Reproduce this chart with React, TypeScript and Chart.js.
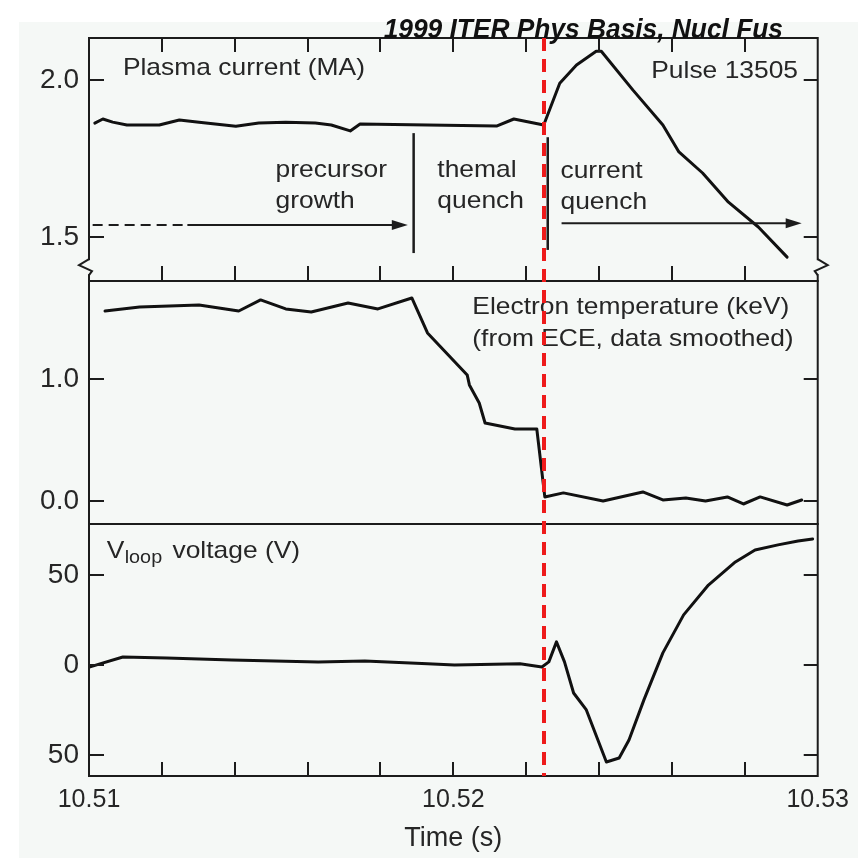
import { useEffect, useRef } from "react";
import { Chart, registerables } from "chart.js";

Chart.register(...registerables);

// ---------- data ----------
const X_MIN = 10.51;
const X_MAX = 10.53;
const X_LABEL_TICKS = [10.51, 10.52, 10.53];
const X_LABELS = ["10.51", "10.52", "10.53"];
const X_MINOR_TICKS = [10.512, 10.514, 10.516, 10.518, 10.52, 10.522, 10.524, 10.526, 10.528];

const IP_TICKS = [1.5, 2.0];
const IP_TICK_LABELS = ["1.5", "2.0"];
const TE_TICKS = [0, 1.0];
const TE_TICK_LABELS = ["0.0", "1.0"];
const V_TICKS = [-50, 0, 50];
const V_TICK_LABELS = ["50", "0", "50"];

const IP_TIME = [10.51016, 10.51038, 10.51065, 10.51104, 10.51193, 10.51248, 10.51302, 10.51403, 10.51466, 10.5154, 10.51621, 10.51665, 10.51717, 10.51744, 10.51929, 10.5212, 10.52166, 10.52248, 10.52292, 10.52338, 10.52392, 10.52406, 10.52493, 10.52575, 10.52619, 10.52684, 10.52755, 10.52837, 10.52916];
const IP_MA = [1.863, 1.876, 1.866, 1.857, 1.857, 1.873, 1.866, 1.853, 1.863, 1.866, 1.863, 1.857, 1.838, 1.86, 1.857, 1.854, 1.876, 1.857, 1.99, 2.048, 2.092, 2.092, 1.968, 1.857, 1.771, 1.704, 1.611, 1.532, 1.436];

const TE_TIME = [10.51044, 10.51139, 10.51302, 10.51411, 10.51471, 10.5154, 10.5161, 10.51711, 10.51793, 10.51886, 10.51929, 10.52038, 10.52044, 10.52071, 10.52087, 10.52169, 10.52229, 10.52251, 10.52302, 10.52411, 10.5252, 10.52575, 10.52638, 10.52692, 10.52752, 10.52796, 10.52842, 10.52916, 10.52956];
const TE_KEV = [1.557, 1.59, 1.607, 1.557, 1.648, 1.574, 1.549, 1.623, 1.574, 1.664, 1.377, 1.033, 0.951, 0.803, 0.639, 0.59, 0.59, 0.033, 0.066, 0.0, 0.074, 0.008, 0.025, 0.0, 0.033, -0.025, 0.033, -0.033, 0.008];

const V_TIME = [10.51003, 10.5103, 10.51093, 10.51213, 10.51392, 10.51629, 10.51757, 10.51929, 10.52003, 10.52183, 10.52243, 10.52262, 10.52283, 10.52305, 10.5233, 10.52365, 10.5242, 10.52455, 10.52482, 10.52523, 10.52575, 10.52632, 10.527, 10.52774, 10.52828, 10.52891, 10.52946, 10.52986];
const V_LOOP = [-1.1, 0.6, 4.4, 3.9, 2.8, 1.7, 2.2, 0.6, 0, 0.6, -1.1, 1.7, 12.8, 1.7, -15.6, -25, -53.9, -51.7, -41.7, -19.4, 6.7, 27.8, 44.4, 57.2, 63.9, 66.7, 68.9, 70];

// phase markers
const DISRUPTION_TIME = 10.52248;
const PRECURSOR_END = 10.51891;
const THERMAL_END = 10.52259;

// ---------- style ----------
const FONT = "'Liberation Sans', Arial, Helvetica, sans-serif";
const INK = "#1c1c1c";
const TEXT = "#262626";
const BG = "#f5f8f6";

const labelFor = (v: number, vals: number[], labels: string[]) => {
  const i = vals.findIndex((t) => Math.abs(t - v) < 1e-9);
  return i >= 0 ? labels[i] : "";
};

const yAxis = (min: number, max: number, ticks: number[], labels: string[], weight: number) => ({
  type: "linear" as const,
  position: "left" as const,
  stack: "panels",
  stackWeight: weight,
  min,
  max,
  bounds: "data" as const,
  grid: { display: false, drawTicks: false },
  border: { display: false },
  afterBuildTicks: (a: any) => {
    a.ticks = ticks.map((v) => ({ value: v }));
  },
  afterFit: (s: any) => {
    s.width = 89;
  },
  ticks: {
    autoSkip: false,
    padding: 10,
    color: TEXT,
    font: { family: FONT, size: 28 },
    callback: (v: any) => labelFor(Number(v), ticks, labels),
  },
});

const decorations = {
  id: "decorations",
  beforeDraw(chart: any) {
    const { ctx, width, height } = chart;
    ctx.save();
    ctx.fillStyle = "#ffffff";
    ctx.fillRect(0, 0, width, height);
    ctx.fillStyle = BG;
    ctx.fillRect(19, 22, width - 19, height - 22);
    ctx.restore();
  },
  afterDatasetsDraw(chart: any) {
    const { ctx, chartArea } = chart;
    const x = chart.scales.x;
    const yI = chart.scales.yIp;
    const yT = chart.scales.yTe;
    const yV = chart.scales.yV;
    const L = chartArea.left;
    const R = chartArea.right;
    const px = (t: number) => x.getPixelForValue(t);

    const line = (x1: number, y1: number, x2: number, y2: number) => {
      ctx.beginPath();
      ctx.moveTo(x1, y1);
      ctx.lineTo(x2, y2);
      ctx.stroke();
    };
    const text = (s: string, tx: number, ty: number, size: number, align: CanvasTextAlign = "left", sx = 1.1, style = "") => {
      ctx.save();
      ctx.font = `${style}${size}px ${FONT}`;
      ctx.textAlign = align;
      ctx.textBaseline = "alphabetic";
      ctx.translate(tx, ty);
      ctx.scale(sx, 1);
      ctx.fillText(s, 0, 0);
      ctx.restore();
    };

    ctx.save();
    ctx.strokeStyle = INK;
    ctx.lineWidth = 2;
    ctx.lineCap = "butt";

    // panel frames
    for (const s of [yI, yT, yV]) ctx.strokeRect(L, s.top, R - L, s.bottom - s.top);

    // inward y ticks on both sides
    const yTicks = (s: any, vals: number[]) => {
      for (const v of vals) {
        const py = Math.round(s.getPixelForValue(v));
        line(L, py, L + 15, py);
        line(R, py, R - 14, py);
      }
    };
    yTicks(yI, IP_TICKS);
    yTicks(yT, TE_TICKS);
    yTicks(yV, V_TICKS);

    // inward x ticks
    for (const t of X_MINOR_TICKS) {
      const p = Math.round(px(t));
      line(p, yI.top, p, yI.top + 14);
      line(p, yI.bottom, p, yI.bottom - 15);
      line(p, yV.bottom, p, yV.bottom - 14);
    }

    // axis breaks on the current panel
    const by = yI.getPixelForValue(1.404);
    const brk = (bx: number, dir: number) => {
      ctx.save();
      ctx.strokeStyle = BG;
      ctx.lineWidth = 4;
      line(bx, by - 7, bx, by + 7);
      ctx.strokeStyle = INK;
      ctx.lineWidth = 2;
      ctx.beginPath();
      ctx.moveTo(bx, by - 8);
      ctx.lineTo(bx + dir * 10, by - 2);
      ctx.lineTo(bx - dir * 3, by + 4);
      ctx.lineTo(bx, by + 8);
      ctx.stroke();
      ctx.restore();
    };
    brk(L, -1);
    brk(R, 1);

    // phase boundaries
    ctx.lineWidth = 2.5;
    line(px(PRECURSOR_END), yI.getPixelForValue(1.831), px(PRECURSOR_END), yI.getPixelForValue(1.449));
    line(px(THERMAL_END), yI.getPixelForValue(1.818), px(THERMAL_END), yI.getPixelForValue(1.459));

    // arrows
    const arrow = (x1: number, x2: number, v: number, dashTo?: number) => {
      const py = yI.getPixelForValue(v);
      ctx.lineWidth = 2;
      if (dashTo !== undefined) {
        ctx.save();
        ctx.setLineDash([10, 6]);
        line(px(x1), py, px(dashTo), py);
        ctx.restore();
        line(px(dashTo), py, px(x2) - 10, py);
      } else {
        line(px(x1), py, px(x2) - 10, py);
      }
      ctx.fillStyle = INK;
      ctx.beginPath();
      ctx.moveTo(px(x2), py);
      ctx.lineTo(px(x2) - 16, py - 5);
      ctx.lineTo(px(x2) - 16, py + 5);
      ctx.closePath();
      ctx.fill();
    };
    arrow(10.5101, 10.51875, 1.538, 10.5127);
    arrow(10.52297, 10.52956, 1.544);

    // texts
    ctx.fillStyle = TEXT;
    text("Plasma current (MA)", px(10.51093), yI.getPixelForValue(2.016), 24);
    text("Pulse 13505", px(10.52946), yI.getPixelForValue(2.006), 24, "right");
    text("precursor", px(10.51512), yI.getPixelForValue(1.691), 24);
    text("growth", px(10.51512), yI.getPixelForValue(1.592), 24);
    text("themal", px(10.51956), yI.getPixelForValue(1.691), 24);
    text("quench", px(10.51956), yI.getPixelForValue(1.592), 24);
    text("current", px(10.52294), yI.getPixelForValue(1.688), 24);
    text("quench", px(10.52294), yI.getPixelForValue(1.589), 24);
    text("Electron temperature (keV)", px(10.52052), yT.getPixelForValue(1.533), 24);
    text("(from ECE, data smoothed)", px(10.52052), yT.getPixelForValue(1.27), 24);
    text("V", px(10.51049), yV.getPixelForValue(59.4), 24);
    text("loop", px(10.51098), yV.getPixelForValue(56.7), 18);
    text("voltage (V)", px(10.51229), yV.getPixelForValue(59.4), 24);

    // disruption marker
    ctx.save();
    ctx.strokeStyle = "#ee1b1b";
    ctx.lineWidth = 4;
    ctx.setLineDash([13, 8]);
    const dx = Math.round(px(DISRUPTION_TIME));
    line(dx, chartArea.top, dx, chartArea.bottom);
    ctx.restore();

    // citation
    ctx.fillStyle = "#111111";
    text("1999 ITER Phys Basis, Nucl Fus", 783, 38, 28, "right", 0.94, "italic bold ");

    ctx.restore();
  },
};

export default function App() {
  const ref = useRef<HTMLCanvasElement>(null);

  useEffect(() => {
    const canvas = ref.current!;
    const pts = (xs: number[], ys: number[]) => xs.map((t, i) => ({ x: t, y: ys[i] }));
    const lineStyle = {
      borderColor: "#111111",
      borderWidth: 3,
      pointRadius: 0,
      tension: 0,
      fill: false,
      borderJoinStyle: "round" as const,
      borderCapStyle: "round" as const,
    };
    const chart = new Chart(canvas, {
      type: "line",
      data: {
        datasets: [
          { label: "Plasma current (MA)", data: pts(IP_TIME, IP_MA), yAxisID: "yIp", ...lineStyle },
          { label: "Electron temperature (keV)", data: pts(TE_TIME, TE_KEV), yAxisID: "yTe", ...lineStyle },
          { label: "Vloop voltage (V)", data: pts(V_TIME, V_LOOP), yAxisID: "yV", ...lineStyle },
        ],
      },
      options: {
        responsive: false,
        animation: false,
        devicePixelRatio: 1,
        events: [],
        layout: { padding: { top: 38, right: 35, bottom: 0, left: 0 } },
        plugins: { legend: { display: false }, tooltip: { enabled: false }, title: { display: false } },
        scales: {
          x: {
            type: "linear",
            position: "bottom",
            min: X_MIN,
            max: X_MAX,
            bounds: "data",
            grid: { display: false, drawTicks: false },
            border: { display: false },
            afterBuildTicks: (a: any) => {
              a.ticks = X_LABEL_TICKS.map((v) => ({ value: v }));
            },
            afterFit: (s: any) => {
              s.height = 82;
            },
            ticks: {
              autoSkip: false,
              maxRotation: 0,
              padding: 9,
              color: TEXT,
              font: { family: FONT, size: 25 },
              callback: (v: any) => labelFor(Number(v), X_LABEL_TICKS, X_LABELS),
            },
            title: {
              display: true,
              text: "Time (s)",
              color: TEXT,
              font: { family: FONT, size: 27 },
              padding: { top: 4, bottom: 3 },
            },
          },
          // stacked panels: the last-listed axis is placed on top
          yV: yAxis(-61.7, 78.3, V_TICKS, V_TICK_LABELS, 252),
          yTe: yAxis(-0.189, 1.803, TE_TICKS, TE_TICK_LABELS, 243),
          yIp: yAxis(1.36, 2.134, IP_TICKS, IP_TICK_LABELS, 243),
        } as any,
      },
      plugins: [decorations],
    });
    return () => chart.destroy();
  }, []);

  return (
    <div style={{ position: "fixed", left: 0, top: 0, width: 858, height: 858 }}>
      <canvas ref={ref} width={858} height={858} style={{ width: 858, height: 858, display: "block" }} />
    </div>
  );
}
